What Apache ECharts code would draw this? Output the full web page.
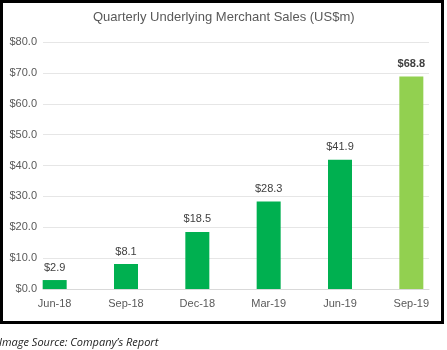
<!DOCTYPE html>
<html>
<head>
<meta charset="utf-8">
<script src="https://cdn.jsdelivr.net/npm/echarts@6/dist/echarts.min.js"></script>
<style>html,body{margin:0;padding:0;background:#fff;}#c{width:447px;height:350px;}</style>
</head>
<body>
<div id="c"></div>
<script>
const categories = ['Jun-18', 'Sep-18', 'Dec-18', 'Mar-19', 'Jun-19', 'Sep-19'];
const sales = [2.9, 8.1, 18.5, 28.3, 41.9, 68.8];
const barColors = ['#00B050', '#00B050', '#00B050', '#00B050', '#00B050', '#92D050'];
const yTicks = [0, 10, 20, 30, 40, 50, 60, 70, 80];

const chart = echarts.init(document.getElementById('c'));
const font = 'Liberation Sans, Arial, sans-serif';
chart.setOption({
  animation: false,
  title: {
    text: 'Quarterly Underlying Merchant Sales (US$m)',
    left: 88, top: 6,
    textStyle: { fontFamily: font, fontSize: 13, fontWeight: 'normal', color: '#595959' }
  },
  grid: [
    { left: 43, right: 18, top: 42, bottom: 61 },
    { left: 19, width: 434, top: 42, bottom: 61 }
  ],
  xAxis: [
    { gridIndex: 0, type: 'category', data: categories, axisLine: { lineStyle: { color: '#D9D9D9' } },
      axisTick: { show: false }, axisLabel: { show: false } },
    { gridIndex: 1, type: 'category', data: categories, axisLine: { show: false }, axisTick: { show: false },
      axisLabel: { margin: 9, fontFamily: font, fontSize: 11, color: '#595959' } }
  ],
  yAxis: [
    { gridIndex: 0, type: 'value', min: yTicks[0], max: yTicks[yTicks.length - 1], interval: 10,
      axisLine: { show: false }, axisTick: { show: false },
      splitLine: { lineStyle: { color: '#E6E6E6' } },
      axisLabel: { margin: 6, fontFamily: font, fontSize: 11, color: '#595959',
        formatter: v => '$' + v.toFixed(1) } },
    { gridIndex: 1, type: 'value', min: yTicks[0], max: yTicks[yTicks.length - 1], show: false, splitLine: { show: false } }
  ],
  series: [{
    type: 'bar', xAxisIndex: 1, yAxisIndex: 1, barWidth: 24,
    data: sales.map((v, i) => ({
      value: v,
      itemStyle: { color: barColors[i] },
      label: { fontWeight: i === sales.length - 1 ? 'bold' : 'normal' }
    })),
    label: { show: true, position: 'top', distance: 7, fontFamily: font, fontSize: 11, color: '#404040',
      formatter: p => '$' + p.value.toFixed(1) }
  }],
  graphic: [
    { type: 'rect', shape: { x: 1.5, y: 1.5, width: 441, height: 321 },
      style: { fill: 'none', stroke: '#000', lineWidth: 3 } },
    { type: 'text', left: -1, top: 337,
      style: { text: 'Image Source: Company\u2019s Report', font: 'italic 11px "Open Sans", sans-serif', fill: '#222' } }
  ]
});
</script>
</body>
</html>
